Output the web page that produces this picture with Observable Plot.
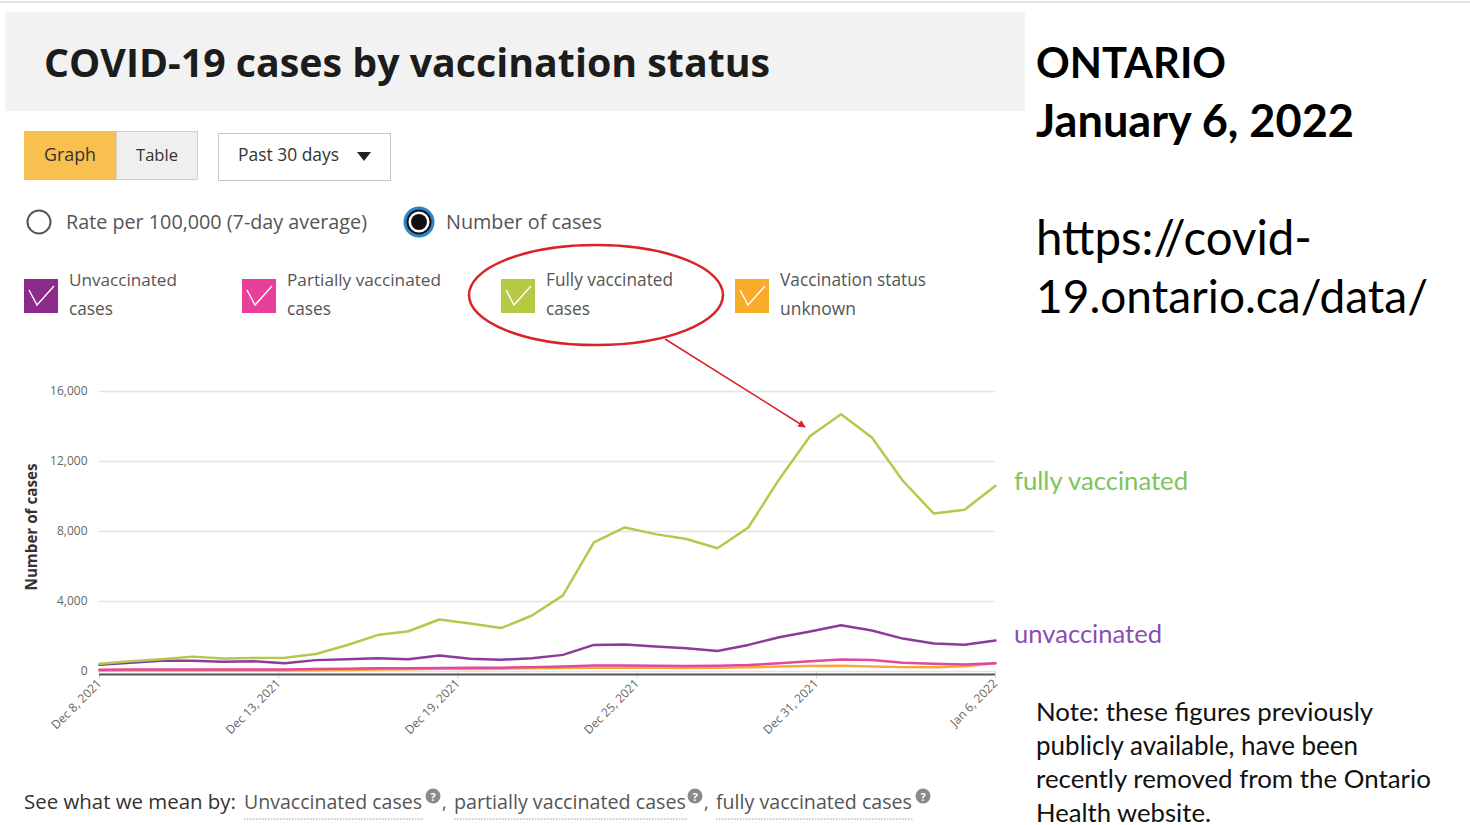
<!DOCTYPE html>
<html>
<head>
<meta charset="utf-8">
<script src="https://cdn.jsdelivr.net/npm/d3@7"></script>
<script src="https://cdn.jsdelivr.net/npm/@observablehq/plot@0.6"></script>
<style>
  html, body { margin: 0; padding: 0; background: #fff; }
  body { width: 1470px; height: 825px; position: relative; overflow: hidden; font-family: "Open Sans", sans-serif; }
  #deco, #over { position: absolute; left: 0; top: 0; }
  #over { pointer-events: none; }
  #chart { position: absolute; left: 0; top: 370px; }
</style>
</head>
<body>
<svg id="deco" width="1470" height="825" font-family="Open Sans">
  <rect x="0" y="1" width="1470" height="2" fill="#e2e2e2"/>
  <rect x="5" y="12" width="1020" height="99" fill="#f2f2f2"/>
  <text x="44" y="77" font-size="36" font-weight="700" fill="#1c1c1c" data-w="726">COVID-19 cases by vaccination status</text>

  <rect x="24" y="131" width="92" height="49" fill="#f7c04f"/>
  <text x="70" y="161" font-size="17" fill="#333" text-anchor="middle" data-w="52">Graph</text>
  <rect x="116.5" y="131.5" width="81" height="48" fill="#efefef" stroke="#cfcfcf"/>
  <text x="157" y="161" font-size="17" fill="#333" text-anchor="middle" data-w="42">Table</text>
  <rect x="218.5" y="133.5" width="172" height="47" fill="#fff" stroke="#c6c6c6"/>
  <text x="238" y="161" font-size="17" fill="#333" data-w="101">Past 30 days</text>
  <path d="M357,152 L371,152 L364,161 Z" fill="#222"/>

  <circle cx="39" cy="222" r="11.5" fill="#fff" stroke="#555" stroke-width="2"/>
  <text x="66" y="229" font-size="18" fill="#555" data-w="301">Rate per 100,000 (7-day average)</text>
  <circle cx="419" cy="222" r="15.5" fill="#2a86c6"/>
  <circle cx="419" cy="222" r="12.5" fill="#111"/>
  <circle cx="419" cy="222" r="10.5" fill="#fff"/>
  <circle cx="419" cy="222" r="8" fill="#111"/>
  <text x="446" y="229" font-size="18" fill="#555" data-w="156">Number of cases</text>

  <g id="legend"></g>

  <text transform="translate(37,527) rotate(-90)" font-size="12" font-weight="700" fill="#333" text-anchor="middle" data-w="127">Number of cases</text>

  <g id="notes" font-family="Lato"></g>

  <g id="bottom"></g>
</svg>
<div id="chart"></div>
<svg id="over" width="1470" height="825">
  <defs>
    <marker id="ah" viewBox="0 0 10 10" refX="9" refY="5" markerWidth="5" markerHeight="5" orient="auto">
      <path d="M0,0 L10,5 L0,10 Z" fill="#d8232a"/>
    </marker>
  </defs>
  <ellipse cx="596" cy="295" rx="127" ry="50" fill="none" stroke="#d8232a" stroke-width="2.5"/>
  <line x1="665" y1="339" x2="805" y2="427" stroke="#d8232a" stroke-width="1.5" marker-end="url(#ah)"/>
</svg>
<script>
// ---------- data ----------
const dates = [
  "2021-12-08","2021-12-09","2021-12-10","2021-12-11","2021-12-12","2021-12-13","2021-12-14","2021-12-15",
  "2021-12-16","2021-12-17","2021-12-18","2021-12-19","2021-12-20","2021-12-21","2021-12-22","2021-12-23",
  "2021-12-24","2021-12-25","2021-12-26","2021-12-27","2021-12-28","2021-12-29","2021-12-30","2021-12-31",
  "2022-01-01","2022-01-02","2022-01-03","2022-01-04","2022-01-05","2022-01-06"
];
const fullyVaccinated = [440, 580, 700, 850, 740, 770, 780, 1000, 1500, 2080, 2300, 2970, 2740, 2480, 3200,
  4350, 7380, 8230, 7850, 7570, 7040, 8230, 10990, 13460, 14700, 13370, 10900, 9030, 9240, 10610];
const unvaccinated = [380, 500, 620, 610, 560, 580, 470, 650, 700, 760, 700, 910, 730, 670, 760,
  950, 1520, 1540, 1430, 1330, 1170, 1520, 1960, 2280, 2640, 2340, 1880, 1600, 1530, 1770];
const partiallyVaccinated = [100, 110, 120, 120, 120, 120, 120, 140, 160, 180, 190, 200, 210, 220, 250,
  290, 340, 340, 330, 320, 330, 370, 470, 580, 680, 660, 500, 440, 400, 470];
const statusUnknown = [50, 55, 60, 60, 60, 60, 60, 70, 90, 110, 130, 150, 150, 160, 180,
  200, 210, 220, 210, 200, 210, 240, 280, 310, 330, 290, 250, 240, 300, 470];

const seriesNames = ["Vaccination status unknown", "Partially vaccinated cases", "Unvaccinated cases", "Fully vaccinated cases"];
const seriesLineColors = ["#f6a83a", "#e2489b", "#8d3b9a", "#b6c84c"];
const seriesValues = [statusUnknown, partiallyVaccinated, unvaccinated, fullyVaccinated];

const legendLabels = [["Unvaccinated", "cases"], ["Partially vaccinated", "cases"], ["Fully vaccinated", "cases"], ["Vaccination status", "unknown"]];
const legendColors = ["#8d2b8d", "#e8409a", "#b7c943", "#f9ac2a"];

const yTicks = [0, 4000, 8000, 12000, 16000];
const xTickLabels = ["Dec 8, 2021", "Dec 13, 2021", "Dec 19, 2021", "Dec 25, 2021", "Dec 31, 2021", "Jan 6, 2022"];

// ---------- chart ----------
const parse = d3.utcParse("%Y-%m-%d");
const rows = seriesNames.flatMap((s, k) => dates.map((d, i) => ({series: s, date: parse(d), value: seriesValues[k][i]})));
const x0 = parse(dates[0]), x1 = parse(dates[dates.length - 1]);
const xTickDates = xTickLabels.map((_, k) => new Date(+x0 + k * (x1 - x0) / (xTickLabels.length - 1)));
const xLabelMap = new Map(xTickDates.map((d, i) => [+d, xTickLabels[i]]));

const chart = Plot.plot({
  width: 1010,
  height: 400,
  marginLeft: 99,
  marginRight: 15,
  marginTop: 21,
  marginBottom: 99,
  style: {background: "transparent", fontFamily: "Open Sans", overflow: "visible"},
  x: {type: "utc", domain: [x0, x1]},
  y: {domain: [0, 16000]},
  color: {domain: seriesNames, range: seriesLineColors},
  marks: [
    Plot.gridY(yTicks, {stroke: "#e3e3e3", strokeOpacity: 1, strokeWidth: 1.5}),
    Plot.axisY(yTicks, {tickSize: 0, tickPadding: 12, tickFormat: d3.format(","), label: null, fontSize: 12, fill: "#666"}),
    Plot.axisX(xTickDates, {tickRotate: -45, tickFormat: d => xLabelMap.get(+d), tickSize: 7, tickPadding: 3,
      stroke: "#d5d5d5", fill: "#666", label: null, fontSize: 12}),
    Plot.ruleY([0], {dy: 3, stroke: "#555", strokeWidth: 2}),
    Plot.line(rows, {x: "date", y: "value", z: "series", stroke: "series", strokeWidth: 2.5})
  ]
});
document.getElementById("chart").appendChild(chart);

// ---------- legend ----------
const NS = "http://www.w3.org/2000/svg";
function el(parent, tag, attrs, text) {
  const e = document.createElementNS(NS, tag);
  for (const k in attrs) e.setAttribute(k, attrs[k]);
  if (text != null) e.textContent = text;
  parent.appendChild(e);
  return e;
}
const legendX = [24, 242, 501, 735];
const legendW = [[108, 44], [154, 44], [127, 44], [146, 76]];
const lg = document.getElementById("legend");
legendLabels.forEach((lab, i) => {
  const x = legendX[i];
  el(lg, "rect", {x, y: 279, width: 34, height: 34, fill: legendColors[i]});
  el(lg, "polyline", {points: `${x+5},${290} ${x+13},${305} ${x+30},${286}`, fill: "none", stroke: "#fff", "stroke-width": 1.4});
  el(lg, "text", {x: x + 45, y: 286, "font-size": 17, fill: "#555", "data-w": legendW[i][0]}, lab[0]);
  el(lg, "text", {x: x + 45, y: 315, "font-size": 17, fill: "#555", "data-w": legendW[i][1]}, lab[1]);
});

// ---------- right side notes ----------
const notes = document.getElementById("notes");
el(notes, "text", {x: 1036, y: 78, "font-size": 40, "font-weight": 700, fill: "#000", "data-w": 190}, "ONTARIO");
el(notes, "text", {x: 1036, y: 137, "font-size": 40, "font-weight": 700, fill: "#000", "data-w": 318}, "January 6, 2022");
el(notes, "text", {x: 1036, y: 255, "font-size": 40, fill: "#000", "data-w": 276}, "https://covid-");
el(notes, "text", {x: 1036, y: 313, "font-size": 40, fill: "#000", "data-w": 392}, "19.ontario.ca/data/");
el(notes, "text", {x: 1014, y: 490, "font-size": 24, fill: "#7dc45a", "data-w": 174}, "fully vaccinated");
el(notes, "text", {x: 1014, y: 643, "font-size": 24, fill: "#8a4db4", "data-w": 148}, "unvaccinated");
const noteLines = ["Note: these figures previously", "publicly available, have been", "recently removed from the Ontario", "Health website."];
const noteW = [337, 322, 395, 175];
noteLines.forEach((t, i) => el(notes, "text", {x: 1036, y: 721 + i * 33.5, "font-size": 24, fill: "#111", "data-w": noteW[i]}, t));

// ---------- bottom definitions line ----------
const bt = document.getElementById("bottom");
el(bt, "text", {x: 24, y: 809, "font-size": 18, fill: "#333", "data-w": 212}, "See what we mean by:");
const defs = [["Unvaccinated cases", 244, 178, 433], ["partially vaccinated cases", 454, 232, 695], ["fully vaccinated cases", 716, 196, 923]];
defs.forEach(([t, x, w, ix], i) => {
  el(bt, "text", {x, y: 809, "font-size": 18, fill: "#555", "data-w": w}, t);
  el(bt, "line", {x1: x, x2: x + w + 2, y1: 819, y2: 819, stroke: "#bbb", "stroke-width": 1.5, "stroke-dasharray": "1.5 1.5"});
  el(bt, "circle", {cx: ix, cy: 796, r: 7.5, fill: "#8a8a8a"});
  el(bt, "text", {x: ix, y: 800.5, "font-size": 11, "font-weight": 700, fill: "#fff", "text-anchor": "middle"}, "?");
  if (i < 2) el(bt, "text", {x: ix + 9, y: 809, "font-size": 18, fill: "#555"}, ",");
});

// ---------- fit text widths ----------
function fit() {
  document.querySelectorAll("text[data-w]").forEach(t => {
    const w = t.getComputedTextLength();
    if (w > 0) {
      const fs = parseFloat(t.getAttribute("font-size"));
      t.setAttribute("font-size", (fs * (+t.dataset.w) / w).toFixed(2));
    }
  });
}
fit();
if (document.fonts && document.fonts.ready) document.fonts.ready.then(fit);
</script>
</body>
</html>
